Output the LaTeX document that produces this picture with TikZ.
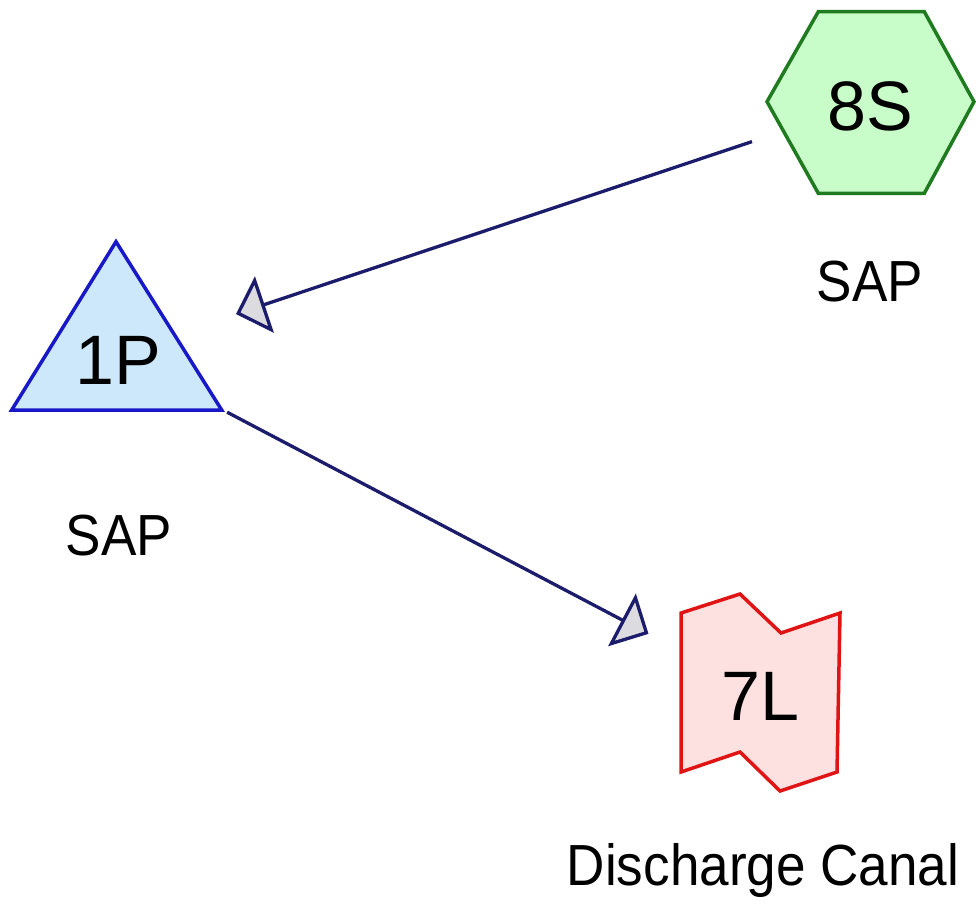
\documentclass[tikz,border=0pt]{standalone}
\usepackage{fontspec}
\setmainfont{Liberation Sans}
\usetikzlibrary{arrows.meta}
\definecolor{hexfill}{HTML}{C8FCC8}
\definecolor{hexline}{HTML}{207A20}
\definecolor{trifill}{HTML}{CCE8FA}
\definecolor{triline}{HTML}{1818C8}
\definecolor{canfill}{HTML}{FDE0E0}
\definecolor{canline}{HTML}{E01414}
\definecolor{conn}{HTML}{1C1C6C}
\definecolor{tipfill}{HTML}{DCDCE0}
\newcommand{\lblsq}[1]{\scalebox{0.915}[1]{#1}}
\tikzset{
  bigtxt/.style={font=\fontsize{70}{84}\selectfont, inner sep=0pt},
  lbltxt/.style={font=\fontsize{58}{70}\selectfont, inner sep=0pt},
  shapeline/.style={line width=3.5pt, line join=miter},
  conline/.style={draw=conn, line width=3.3pt, shorten <=125pt, shorten >=126pt,
    -{Triangle[length=30pt, width=59pt, fill=tipfill]}},
}
\begin{document}
\begin{tikzpicture}[x=1pt,y=-1pt]
\useasboundingbox (0,0) rectangle (976,904);
% shapes
\draw[shapeline, fill=hexfill, draw=hexline]
  (818.3,11.7) -- (924.3,11.7) -- (974,101.7) -- (924.3,193.3) -- (818.3,193.3) -- (767,101.7) -- cycle;
\draw[shapeline, fill=trifill, draw=triline]
  (116,241.7) -- (221.7,410) -- (11.7,410) -- cycle;
\draw[shapeline, fill=canfill, draw=canline]
  (681,613) -- (740,594) -- (781,633) -- (840,613) -- (837,772) -- (780,791) -- (740,752) -- (681,772) -- cycle;
% centres
\coordinate (c8S) at (870.5,102);
\coordinate (c1P) at (116.5,354);
\coordinate (c7L) at (760,692.5);
% texts
\node[bigtxt] (t8S) at (870,106.7) {8S};
\node[bigtxt] (t1P) at (118,360) {1P};
\node[bigtxt] (t7L) at (760,696) {7L};
\node[lbltxt] (l8S) at (870,282) {\lblsq{SAP}};
\node[lbltxt] (l1P) at (119,536) {\lblsq{SAP}};
\node[lbltxt] (l7L) at (763,870) {\lblsq{Discharge Canal}};
% connectors
\draw[conline] (c8S) -- (c1P);
\draw[conline] (c1P) -- (c7L);
\end{tikzpicture}
\end{document}
